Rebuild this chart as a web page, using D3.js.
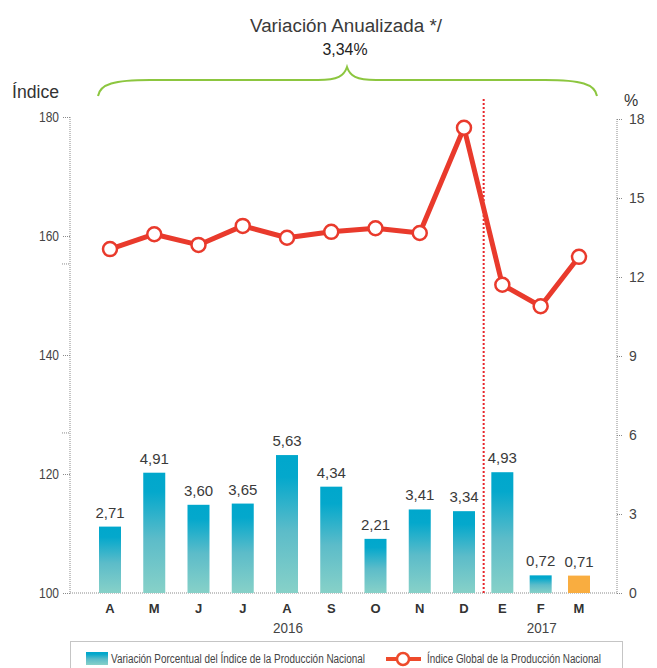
<!DOCTYPE html>
<html>
<head>
<meta charset="utf-8">
<script src="https://cdn.jsdelivr.net/npm/d3@7"></script>
<style>
  body { margin: 0; background: #fff; }
  svg { font-family: "Liberation Sans", Arial, sans-serif; }
</style>
</head>
<body>
<div id="chart"></div>
<script>
// data
var months = ['A', 'M', 'J', 'J', 'A', 'S', 'O', 'N', 'D', 'E', 'F', 'M'];
var variacion = [2.71, 4.91, 3.60, 3.65, 5.63, 4.34, 2.21, 3.41, 3.34, 4.93, 0.72, 0.71];
var indice = [157.8, 160.3, 158.5, 161.7, 159.7, 160.7, 161.3, 160.5, 178.2, 151.8, 148.2, 156.5];
var leftTicks = [100, 120, 140, 160, 180];
var leftMinor = [155.3, 126.9];
var rightTicks = [0, 3, 6, 9, 12, 15, 18];
var years = [{label: '2016', from: 0, to: 8}, {label: '2017', from: 9, to: 11}];

var W = 657, H = 668;
var svg = d3.select('#chart').append('svg')
    .attr('width', W)
    .attr('height', H);

var defs = svg.append('defs');
var grad = defs.append('linearGradient')
    .attr('id', 'barGrad')
    .attr('x1', 0).attr('y1', 0).attr('x2', 0).attr('y2', 1);
grad.append('stop').attr('offset', '0%').attr('stop-color', '#00a7cc');
grad.append('stop').attr('offset', '16%').attr('stop-color', '#04a8cc');
grad.append('stop').attr('offset', '55%').attr('stop-color', '#5cbcc9');
grad.append('stop').attr('offset', '100%').attr('stop-color', '#87d1c8');

var x = d3.scaleLinear().domain([0, 8, 11]).range([110, 464, 579]);
var yLeft = d3.scaleLinear().domain([100, 180]).range([593, 117]);
var yRight = d3.scaleLinear().domain([0, 18]).range([593, 119]);
var yBar = d3.scaleLinear().domain([0, 18]).range([593, 152]);
var barW = 22;
var axisColor = '#8a8a8a';
var textColor = '#444';

// title
svg.append('text')
    .attr('x', 346).attr('y', 32)
    .attr('text-anchor', 'middle')
    .attr('font-size', 18)
    .attr('fill', '#3a3a3a')
    .attr('textLength', 192)
    .attr('lengthAdjust', 'spacingAndGlyphs')
    .text('Variación Anualizada */');
svg.append('text')
    .attr('x', 345).attr('y', 55)
    .attr('text-anchor', 'middle')
    .attr('font-size', 16)
    .attr('fill', '#222')
    .attr('textLength', 45)
    .attr('lengthAdjust', 'spacingAndGlyphs')
    .text('3,34%');

// brace
svg.append('path')
    .attr('d', 'M98,96 C100,84 114,80 150,80 L318,80 C338,80 344,76 347,67 C350,76 356,80 376,80 L545,80 C581,80 595,84 597,96')
    .attr('fill', 'none')
    .attr('stroke', '#8cc63f')
    .attr('stroke-width', 2);

// axis titles
svg.append('text')
    .attr('x', 12).attr('y', 98)
    .attr('font-size', 18)
    .attr('fill', '#333')
    .attr('textLength', 47)
    .attr('lengthAdjust', 'spacingAndGlyphs')
    .text('Índice');
svg.append('text')
    .attr('x', 631).attr('y', 106)
    .attr('text-anchor', 'middle')
    .attr('font-size', 16)
    .attr('fill', '#333')
    .text('%');

// left axis
var leftAxis = d3.axisLeft(yLeft).tickValues(leftTicks).tickSize(8).tickPadding(3);
var gl = svg.append('g').attr('transform', 'translate(70,0)').call(leftAxis);
gl.select('.domain').remove();
gl.selectAll('line').attr('stroke', axisColor).attr('stroke-dasharray', '1,1');
gl.selectAll('text').attr('font-size', 14).attr('fill', textColor).attr('font-family', null)
    .attr('textLength', 20).attr('lengthAdjust', 'spacingAndGlyphs');
gl.append('line')
    .attr('x1', 0).attr('x2', 0)
    .attr('y1', yLeft(180)).attr('y2', yLeft(100))
    .attr('stroke', axisColor).attr('stroke-dasharray', '1,1');
gl.selectAll('.minor').data(leftMinor).enter().append('line')
    .attr('class', 'minor')
    .attr('x1', -8).attr('x2', 0)
    .attr('y1', function(d) { return yLeft(d) }).attr('y2', function(d) { return yLeft(d) })
    .attr('stroke', axisColor).attr('stroke-dasharray', '1,1');

// right axis
var rightAxis = d3.axisRight(yRight).tickValues(rightTicks).tickSize(6).tickPadding(6);
var gr = svg.append('g').attr('transform', 'translate(617,0)').call(rightAxis);
gr.select('.domain').remove();
gr.selectAll('line').attr('stroke', axisColor).attr('stroke-dasharray', '1,1');
gr.selectAll('text').attr('font-size', 14).attr('fill', textColor).attr('font-family', null);
gr.append('line')
    .attr('x1', 0).attr('x2', 0)
    .attr('y1', yRight(18)).attr('y2', yRight(0))
    .attr('stroke', axisColor).attr('stroke-dasharray', '1,1');

// baseline
svg.append('line')
    .attr('x1', 70).attr('x2', 617)
    .attr('y1', yBar(0)).attr('y2', yBar(0))
    .attr('stroke', axisColor).attr('stroke-dasharray', '1,1');

// bars
svg.selectAll('rect.bar').data(variacion).enter().append('rect')
    .attr('class', 'bar')
    .attr('x', function(d, i) { return x(i) - barW / 2 })
    .attr('y', function(d) { return yBar(d) })
    .attr('width', barW)
    .attr('height', function(d) { return yBar(0) - yBar(d) })
    .attr('fill', function(d, i) { return i == variacion.length - 1 ? '#f9ad40' : 'url(#barGrad)' });

svg.selectAll('text.val').data(variacion).enter().append('text')
    .attr('class', 'val')
    .attr('x', function(d, i) { return x(i) })
    .attr('y', function(d) { return yBar(d) - 9 })
    .attr('text-anchor', 'middle')
    .attr('font-size', 15)
    .attr('fill', '#3a3a3a')
    .text(function(d) { return d.toFixed(2).replace('.', ',') });

// year separator
svg.append('line')
    .attr('x1', (x(8) + x(9)) / 2 + 0.5).attr('x2', (x(8) + x(9)) / 2 + 0.5)
    .attr('y1', 99).attr('y2', yBar(0))
    .attr('stroke', '#e8262b')
    .attr('stroke-width', 2)
    .attr('stroke-dasharray', '2,2');

// index line
var line = d3.line()
    .x(function(d, i) { return x(i) })
    .y(function(d) { return yLeft(d) });
svg.append('path')
    .datum(indice)
    .attr('d', line)
    .attr('fill', 'none')
    .attr('stroke', '#e93a2c')
    .attr('stroke-width', 5)
    .attr('stroke-linejoin', 'round');
svg.selectAll('circle.pt').data(indice).enter().append('circle')
    .attr('class', 'pt')
    .attr('cx', function(d, i) { return x(i) })
    .attr('cy', function(d) { return yLeft(d) })
    .attr('r', 7)
    .attr('fill', '#fff')
    .attr('stroke', '#e93a2c')
    .attr('stroke-width', 2.5);

// month labels
svg.selectAll('text.month').data(months).enter().append('text')
    .attr('class', 'month')
    .attr('x', function(d, i) { return x(i) })
    .attr('y', 613)
    .attr('text-anchor', 'middle')
    .attr('font-weight', 'bold')
    .attr('font-size', 13)
    .attr('fill', '#333')
    .text(function(d) { return d });

svg.selectAll('text.year').data(years).enter().append('text')
    .attr('class', 'year')
    .attr('x', function(d) { return (x(d.from) + x(d.to)) / 2 + 1 })
    .attr('y', 633)
    .attr('text-anchor', 'middle')
    .attr('font-size', 14)
    .attr('fill', textColor)
    .attr('textLength', 30)
    .attr('lengthAdjust', 'spacingAndGlyphs')
    .text(function(d) { return d.label });

// legend
var lg = svg.append('g');
lg.append('rect')
    .attr('x', 70.5).attr('y', 641.5)
    .attr('width', 552).attr('height', 40)
    .attr('fill', 'none')
    .attr('stroke', axisColor)
    .attr('stroke-dasharray', '1,1');
lg.append('rect')
    .attr('x', 86).attr('y', 652)
    .attr('width', 22).attr('height', 13)
    .attr('fill', 'url(#barGrad)');
lg.append('text')
    .attr('x', 111).attr('y', 663)
    .attr('font-size', 12.5)
    .attr('fill', textColor)
    .attr('textLength', 254)
    .attr('lengthAdjust', 'spacingAndGlyphs')
    .text('Variación Porcentual del Índice de la Producción Nacional');
lg.append('line')
    .attr('x1', 386).attr('x2', 421)
    .attr('y1', 659).attr('y2', 659)
    .attr('stroke', '#ee4a2b')
    .attr('stroke-width', 4);
lg.append('circle')
    .attr('cx', 403).attr('cy', 659).attr('r', 6)
    .attr('fill', '#fff')
    .attr('stroke', '#ee4a2b')
    .attr('stroke-width', 2.5);
lg.append('text')
    .attr('x', 427).attr('y', 663)
    .attr('font-size', 12.5)
    .attr('fill', textColor)
    .attr('textLength', 174)
    .attr('lengthAdjust', 'spacingAndGlyphs')
    .text('Índice Global de la Producción Nacional');
</script>
</body>
</html>
